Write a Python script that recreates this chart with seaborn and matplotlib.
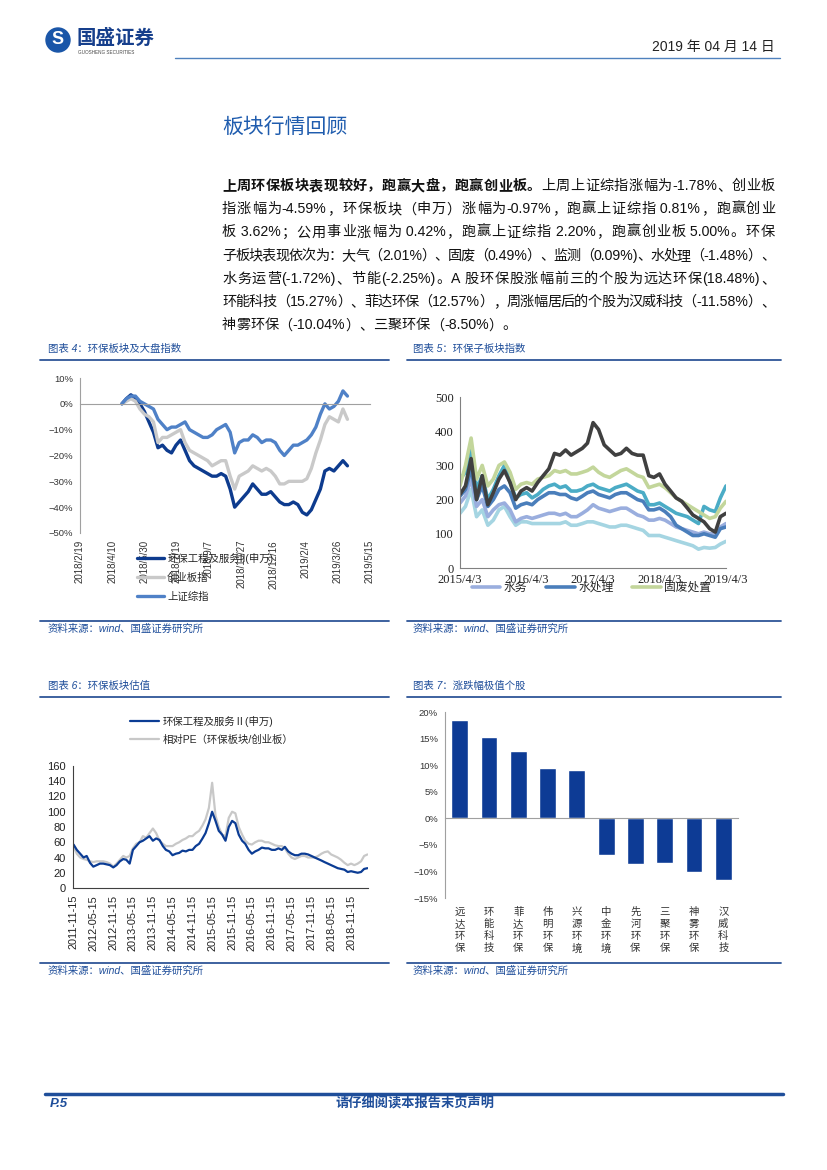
import numpy as np
import pandas as pd
import seaborn as sns
import matplotlib.pyplot as plt
import matplotlib.dates as mdates
from matplotlib.patches import Circle

sns.set_style('white')
plt.rcParams['font.family'] = ['Liberation Sans', 'Noto Sans CJK SC', 'DejaVu Sans']

W, H = 827, 1170
TBLUE = '#1f4e9a'

# ---------------- 数据 ----------------
# 图表4 环保板块及大盘指数 (周度, 自2018-04-25起, 单位%)
c4_start = '2018-04-25'
c4_hb = [0, 2, 3.5, 2, 0, -3, -7, -11, -17, -16, -18, -19, -16, -14, -18, -22, -24,
         -25, -26, -27, -28, -28, -27, -28, -33, -40, -38, -36, -34, -31, -33, -35,
         -35, -34, -36, -38, -39, -39, -38, -39, -42, -43, -41, -37, -33, -26, -25,
         -26, -24, -22, -24]
c4_cyb = [0, 1, 2, 1, -2, -4, -5, -7, -15, -13, -13, -12, -11, -10, -15, -18, -19,
          -20, -21, -22, -24, -23, -22, -22, -28, -33, -28, -27, -26, -24, -25, -26,
          -25, -26, -28, -31, -31, -30, -30, -30, -30, -29, -25, -19, -14, -8, -5,
          -6, -7, -2, -6]
c4_sz = [0, 2, 3, 3, 1, 0, -1, -2, -6, -8, -10, -9, -9, -8, -7, -10, -11,
         -12, -13, -13, -12, -10, -9, -8, -11, -19, -15, -14, -14, -12, -13, -15,
         -14, -14, -15, -18, -20, -18, -16, -16, -15, -14, -12, -9, -4, 0, -2,
         -1, 1, 5, 3]
c4_names = ['环保工程及服务II(申万)', '创业板指', '上证综指']
c4_ticks = ['2018-02-19', '2018-04-10', '2018-05-30', '2018-07-19', '2018-09-07',
            '2018-10-27', '2018-12-16', '2019-02-04', '2019-03-26', '2019-05-15']
c4_ticklabels = ['2018/2/19', '2018/4/10', '2018/5/30', '2018/7/19', '2018/9/7',
                 '2018/10/27', '2018/12/16', '2019/2/4', '2019/3/26', '2019/5/15']

# 图表5 环保子板块指数 (月度, 自2015-04-03起)
c5_start = '2015-04-03'
c5_dq = [215, 240, 320, 200, 270, 185, 220, 260, 285, 250, 200, 225, 235, 225, 250, 270,
         290, 335, 330, 345, 330, 340, 350, 365, 425, 405, 360, 345, 330, 335, 350, 335,
         330, 330, 270, 265, 275, 245, 225, 205, 195, 175, 155, 145, 135, 115, 105, 150, 160]
c5_gf = [240, 300, 380, 260, 300, 240, 260, 300, 310, 280, 230, 245, 250, 245, 260, 265,
         270, 285, 280, 285, 275, 275, 280, 285, 295, 280, 270, 265, 275, 285, 290, 280,
         270, 265, 235, 240, 245, 235, 220, 205, 195, 185, 175, 165, 155, 145, 150, 175, 195]
c5_jc = [260, 280, 355, 230, 270, 200, 230, 270, 300, 250, 205, 215, 220, 205, 215, 230,
         240, 245, 235, 240, 225, 225, 230, 240, 245, 235, 230, 225, 235, 240, 245, 235,
         225, 220, 185, 185, 190, 180, 170, 160, 155, 150, 140, 130, 180, 170, 165, 205, 240]
c5_scl = [210, 230, 290, 200, 240, 180, 200, 230, 240, 220, 175, 185, 190, 185, 200, 210,
          220, 220, 215, 215, 205, 200, 210, 220, 225, 215, 210, 205, 215, 220, 220, 210,
          200, 195, 170, 170, 175, 165, 150, 125, 115, 105, 95, 95, 100, 95, 90, 115, 120]
c5_sw = [190, 210, 260, 180, 200, 150, 170, 185, 190, 170, 135, 145, 150, 145, 150, 155,
         160, 160, 155, 160, 150, 150, 160, 170, 185, 175, 170, 165, 170, 175, 175, 165,
         155, 150, 140, 140, 145, 140, 130, 120, 115, 110, 105, 100, 105, 100, 100, 120, 130]
c5_jn = [160, 180, 230, 150, 170, 125, 140, 170, 180, 150, 125, 135, 135, 130, 130, 130,
         130, 130, 130, 135, 125, 125, 130, 135, 135, 130, 125, 120, 120, 125, 125, 120,
         115, 110, 95, 95, 95, 90, 85, 80, 75, 70, 65, 55, 60, 58, 60, 70, 78]
c5_ticks = ['2015-04-03', '2016-04-03', '2017-04-03', '2018-04-03', '2019-04-03']
c5_ticklabels = ['2015/4/3', '2016/4/3', '2017/4/3', '2018/4/3', '2019/4/3']

# 图表6 环保板块估值 (月度, 自2011-11-15起)
c6_start = '2011-11-15'
c6_pe = [57, 50,
         45, 40, 42, 33, 28, 30, 32, 32, 31, 30, 27, 30,
         35, 38, 37, 32, 50, 55, 60, 62, 65, 68, 62, 65,
         63, 55, 50, 48, 43, 45, 46, 49, 48, 50, 50, 55,
         58, 65, 72, 85, 100, 88, 75, 70, 62, 80, 88, 85,
         70, 62, 58, 50, 45, 48, 50, 53, 52, 52, 50, 50,
         52, 50, 54, 48, 45, 43, 43, 45, 45, 44, 42, 40,
         38, 36, 34, 32, 30, 28, 26, 25, 24, 21, 22, 21,
         20, 21, 25, 26]
c6_rel = [55, 45,
          40, 38, 37, 35, 34, 35, 35, 35, 34, 32, 28, 32,
          37, 42, 40, 42, 52, 58, 60, 68, 66, 72, 78, 72,
          62, 58, 55, 55, 55, 58, 60, 63, 65, 68, 68, 72,
          75, 82, 90, 105, 138, 95, 80, 70, 68, 92, 100, 98,
          80, 70, 62, 58, 57, 60, 62, 62, 60, 60, 58, 56,
          55, 55, 52, 45, 40, 38, 40, 42, 42, 40, 40, 40,
          42, 45, 47, 48, 44, 42, 40, 37, 33, 30, 32, 30,
          32, 35, 42, 44]
c6_names = ['环保工程及服务Ⅱ(申万)', '相对PE（环保板块/创业板）']

# 图表7 涨跌幅极值个股 (%)
c7_names = ['远达环保', '环能科技', '菲达环保', '伟明环保', '兴源环境',
            '中金环境', '先河环保', '三聚环保', '神雾环保', '汉威科技']
c7_vals = [18.48, 15.27, 12.57, 9.4, 9.0, -6.9, -8.6, -8.50, -10.04, -11.58]

para_bold = '上周环保板块表现较好，跑赢大盘，跑赢创业板。'
para = [
    '上周上证综指涨幅为-1.78%、创业板',
    '指涨幅为-4.59%，环保板块（申万）涨幅为-0.97%，跑赢上证综指 0.81%，跑赢创业',
    '板 3.62%；公用事业涨幅为 0.42%，跑赢上证综指 2.20%，跑赢创业板 5.00%。环保',
    '子板块表现依次为：大气（2.01%）、固废（0.49%）、监测（0.09%)、水处理（-1.48%）、',
    '水务运营(-1.72%)、节能(-2.25%)。A 股环保股涨幅前三的个股为远达环保(18.48%)、',
    '环能科技（15.27%）、菲达环保（12.57%），周涨幅居后的个股为汉威科技（-11.58%）、',
    '神雾环保（-10.04%）、三聚环保（-8.50%）。',
]

# ---------------- 画布 ----------------
fig = plt.figure(figsize=(W / 100, H / 100), dpi=100)
bg = fig.add_axes([0, 0, 1, 1])
bg.set_xlim(0, W)
bg.set_ylim(H, 0)
bg.axis('off')
fig.canvas.draw()
rend = fig.canvas.get_renderer()


def px_axes(x0, y0, x1, y1):
    a = fig.add_axes([x0 / W, 1 - y1 / H, (x1 - x0) / W, (y1 - y0) / H])
    a.set_facecolor('none')
    return a


def split_tokens(s, weight):
    out, buf = [], ''
    for ch in s:
        if ord(ch) < 128:
            buf += ch
        else:
            if buf:
                out.append((buf, weight))
                buf = ''
            out.append((ch, weight))
    if buf:
        out.append((buf, weight))
    return out


def text_line(toks, x0, x1, y, fs, justify=True):
    # 两端对齐排版一行
    widths = []
    for s, w in toks:
        t = bg.text(0, 0, s, fontsize=fs, fontweight=w)
        widths.append(t.get_window_extent(rend).width)
        t.remove()
    gap = (x1 - x0 - sum(widths)) / (len(toks) - 1) if justify else 0
    x = x0
    for (s, w), wd in zip(toks, widths):
        bg.text(x, y, s, fontsize=fs, fontweight=w, color='#111', va='center')
        x += wd + gap


# 页眉
bg.add_patch(Circle((58, 40), 12, color='#1a56a8'))
bg.text(58, 40, 'S', color='white', fontsize=13, fontweight='bold', ha='center', va='center')
bg.text(77, 38, '国盛证券', color='#163f8c', fontsize=14, fontweight='bold', va='center')
bg.text(78, 53, 'GUOSHENG SECURITIES', color='#444', fontsize=3.3, va='center')
bg.text(775, 47, '2019 年 04 月 14 日', color='#222', fontsize=10, ha='right', va='center')
bg.plot([175, 780], [58, 58], color='#4f81bd', lw=1)

bg.text(222, 127, '板块行情回顾', color='#1f5cae', fontsize=15, va='center')

# 正文
FS = 10.2
text_line(split_tokens(para_bold, 'bold') + split_tokens(para[0], 'normal'), 222, 775, 186, FS)
for i, line in enumerate(para[1:], start=1):
    text_line(split_tokens(line, 'normal'), 222, 775, 186 + 23.2 * i, FS,
              justify=(i < len(para) - 1))

# 图表标题/来源
for (x, x0, x1, yt, yl, ys, yst, title) in [
        (48, 40, 389, 349, 360, 621, 629, '图表 4：环保板块及大盘指数'),
        (413, 407, 781, 349, 360, 621, 629, '图表 5：环保子板块指数'),
        (48, 40, 389, 686, 697, 963, 971, '图表 6：环保板块估值'),
        (413, 407, 781, 686, 697, 963, 971, '图表 7：涨跌幅极值个股')]:
    bg.text(x, yt, title, color=TBLUE, fontsize=7.5, va='center', style='italic')
    bg.plot([x0, x1], [yl, yl], color='#2e5597', lw=1.3)
    bg.plot([x0, x1], [ys, ys], color='#2e5597', lw=1.3)
    bg.text(x, yst, '资料来源：wind、国盛证券研究所', color=TBLUE, fontsize=7.5,
            va='center', style='italic')

# 页脚
bg.plot([45, 783], [1094, 1094], color=TBLUE, lw=2.5)
bg.text(50, 1104, 'P.5', color=TBLUE, fontsize=9.5, fontweight='bold', style='italic', va='center')
bg.text(415, 1104, '请仔细阅读本报告末页声明', color=TBLUE, fontsize=9.5, fontweight='bold',
        ha='center', va='center')

# ---------------- 图表4 ----------------
ax4 = px_axes(80, 378, 370, 533)
d4 = pd.date_range(c4_start, periods=len(c4_hb), freq='7D')
for vals, col in [(c4_hb, '#0d3b8e'), (c4_cyb, '#c9c9c9'), (c4_sz, '#4f81c7')]:
    sns.lineplot(x=d4, y=vals, color=col, lw=2.4, ax=ax4, legend=False)
t4 = pd.to_datetime(c4_ticks)
ax4.set_xlim(t4[0], t4[-1])
ax4.set_ylim(-50, 10)
ax4.set_yticks(range(-50, 11, 10))
ax4.set_yticklabels([f'{v}%'.replace('-', '−') for v in range(-50, 11, 10)], fontsize=6.8, color='#333')
ax4.set_xticks(t4)
ax4.tick_params(axis='x', length=3, color='#a0a0a0', labelbottom=False)
ax4.tick_params(axis='y', length=3, color='#a0a0a0', pad=2)
ax4.spines['bottom'].set_position(('data', 0))
for s in ['top', 'right']:
    ax4.spines[s].set_visible(False)
for s in ['left', 'bottom']:
    ax4.spines[s].set_color('#a0a0a0')
for d, lab in zip(t4, c4_ticklabels):
    ax4.text(mdates.date2num(d), -0.045, lab, transform=ax4.get_xaxis_transform(),
             rotation=90, ha='center', va='top', fontsize=7, color='#333')
ax4.set_xlabel('')
ax4.set_ylabel('')
ax4.legend(ax4.lines[:3], c4_names, loc='upper left', bbox_to_anchor=(137 / W, 1 - 553 / H),
           bbox_transform=fig.transFigure, frameon=False, fontsize=7.5, handlelength=2.6,
           handletextpad=0.3, labelspacing=0.85, borderpad=0, borderaxespad=0)

# ---------------- 图表5 ----------------
ax5 = px_axes(460, 397, 726, 568)
d5 = pd.date_range(c5_start, periods=len(c5_dq), freq=pd.DateOffset(months=1))
c5_series = [(c5_jn, '#a5d5e2', '节能'), (c5_sw, '#9aaede', '水务'), (c5_scl, '#4a7ebb', '水处理'),
             (c5_jc, '#4bacc6', '监测'), (c5_gf, '#c3d69b', '固废处置'), (c5_dq, '#404040', '大气治理')]
for vals, col, name in c5_series:
    sns.lineplot(x=d5, y=vals, color=col, lw=2.6, ax=ax5, legend=False)
t5 = pd.to_datetime(c5_ticks)
ax5.set_xlim(t5[0], t5[-1])
ax5.set_ylim(0, 500)
ax5.set_yticks(range(0, 501, 100))
ax5.set_xticks(t5)
ax5.set_xticklabels(c5_ticklabels)
for lab in ax5.get_xticklabels() + ax5.get_yticklabels():
    lab.set_fontfamily('Liberation Serif')
    lab.set_fontsize(9)
    lab.set_color('#222')
ax5.tick_params(length=3, color='#808080', pad=1.5)
for s in ['top', 'right']:
    ax5.spines[s].set_visible(False)
for s in ['left', 'bottom']:
    ax5.spines[s].set_color('#808080')
ax5.set_xlabel('')
ax5.set_ylabel('')
lines5 = ax5.lines
ax5.legend([lines5[1], lines5[2], lines5[4]], ['水务', '水处理', '固废处置'], loc='upper left',
           bbox_to_anchor=(472 / W, 1 - 582 / H), bbox_transform=fig.transFigure, ncol=3,
           frameon=False, fontsize=8.5, handlelength=2.4, handletextpad=0.3,
           columnspacing=1.6, borderpad=0, borderaxespad=0)

# ---------------- 图表6 ----------------
ax6 = px_axes(73, 766, 368, 888)
d6 = pd.date_range(c6_start, periods=len(c6_pe), freq=pd.DateOffset(months=1))
sns.lineplot(x=d6, y=c6_rel, color='#c8c8c8', lw=1.6, ax=ax6, legend=False)
sns.lineplot(x=d6, y=c6_pe, color='#0b3c94', lw=1.6, ax=ax6, legend=False)
t6 = pd.date_range('2011-11-15', '2018-11-15', freq=pd.DateOffset(months=6))
ax6.set_xlim(pd.Timestamp('2011-11-10'), pd.Timestamp('2019-04-20'))
ax6.set_ylim(0, 160)
ax6.set_yticks(range(0, 161, 20))
ax6.set_yticklabels([str(v) for v in range(0, 161, 20)], fontsize=8, color='#222')
ax6.set_xticks(t6)
ax6.set_xticklabels([d.strftime('%Y-%m-%d') for d in t6], rotation=90, fontsize=7.8, color='#222')
ax6.tick_params(length=3, color='#404040', pad=2)
for s in ['top', 'right']:
    ax6.spines[s].set_visible(False)
for s in ['left', 'bottom']:
    ax6.spines[s].set_color('#404040')
ax6.set_xlabel('')
ax6.set_ylabel('')
ax6.legend([ax6.lines[1], ax6.lines[0]], c6_names, loc='upper left',
           bbox_to_anchor=(130 / W, 1 - 716 / H), bbox_transform=fig.transFigure,
           frameon=False, fontsize=7.5, handlelength=2.8, handletextpad=0.3,
           labelspacing=0.75, borderpad=0, borderaxespad=0)

# ---------------- 图表7 ----------------
ax7 = px_axes(445, 712, 738, 898)
sns.barplot(x=c7_names, y=c7_vals, color='#0d3b95', saturation=1, width=0.57, ax=ax7)
ax7.set_xlim(-0.5, len(c7_names) - 0.5)
ax7.set_ylim(-15, 20)
ax7.set_yticks(range(-15, 21, 5))
ax7.set_yticklabels([f'{v}%'.replace('-', '−') for v in range(-15, 21, 5)], fontsize=6.8, color='#333')
ax7.set_xticks(np.arange(-0.5, len(c7_names), 1), minor=True)
ax7.tick_params(axis='x', which='major', length=0, labelbottom=False)
ax7.tick_params(axis='x', which='minor', length=3, color='#a0a0a0')
ax7.tick_params(axis='y', length=3, color='#a0a0a0', pad=2)
ax7.spines['bottom'].set_position(('data', 0))
for s in ['top', 'right']:
    ax7.spines[s].set_visible(False)
for s in ['left', 'bottom']:
    ax7.spines[s].set_color('#a0a0a0')
for i, name in enumerate(c7_names):
    ax7.text(i, -0.048, '\n'.join(name), transform=ax7.get_xaxis_transform(),
             ha='center', va='top', fontsize=7.5, linespacing=1.25, color='#333')
ax7.set_xlabel('')
ax7.set_ylabel('')

fig.savefig('out.png', dpi=100)
